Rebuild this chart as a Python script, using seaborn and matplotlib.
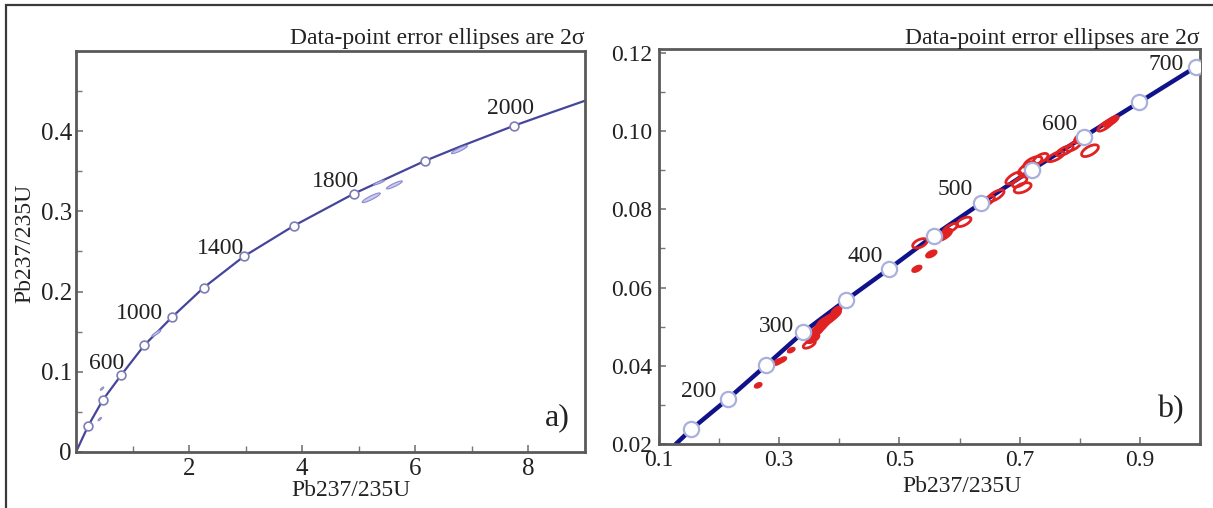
import numpy as np
import pandas as pd
import matplotlib
matplotlib.use("Agg")
import matplotlib.pyplot as plt
from matplotlib.patches import Rectangle
import seaborn as sns

# ---------------- data ----------------
# panel a) concordia curve points and age markers
a_curve_x = [0.0, 0.217, 0.475, 0.80, 1.207, 1.695, 2.258, 2.97, 3.85, 4.91, 6.17, 6.78, 7.75, 8.41, 9.0]
a_curve_y = [0.0, 0.0328, 0.065, 0.096, 0.133, 0.168, 0.205, 0.244, 0.282, 0.322, 0.363, 0.3805, 0.407, 0.4235, 0.438]
a_mark_x = [0.217, 0.475, 0.80, 1.207, 1.695, 2.258, 2.97, 3.85, 4.91, 6.17, 7.75]
a_mark_y = [0.0328, 0.065, 0.096, 0.133, 0.168, 0.205, 0.244, 0.282, 0.322, 0.363, 0.407]
a_age_labels = ["600", "1000", "1400", "1800", "2000"]
a_age_x = [0.54, 1.12, 2.56, 4.58, 7.69]
a_age_y = [0.110, 0.173, 0.254, 0.337, 0.428]
# panel a) error ellipses: centre x, centre y, half-extent x, half-extent y, correlation
a_ell_cx = [0.42, 0.46, 0.80, 1.42, 1.72, 5.22, 5.63, 5.36, 6.78]
a_ell_cy = [0.041, 0.079, 0.095, 0.148, 0.168, 0.317, 0.333, 0.336, 0.377]
a_ell_sx = [0.03, 0.03, 0.05, 0.08, 0.06, 0.16, 0.14, 0.10, 0.14]
a_ell_sy = [0.002, 0.002, 0.003, 0.004, 0.004, 0.006, 0.005, 0.003, 0.005]
a_ell_r = [0.8, 0.8, 0.8, 0.9, 0.9, 0.9, 0.9, 0.9, 0.9]

# panel b) concordia curve points and age markers
b_curve_x = [0.128, 0.154, 0.2145, 0.278, 0.340, 0.411, 0.482, 0.557, 0.635, 0.720, 0.807, 0.899, 0.993]
b_curve_y = [0.020, 0.0238, 0.0315, 0.0401, 0.0486, 0.0568, 0.0647, 0.0733, 0.0815, 0.0901, 0.0986, 0.1074, 0.1164]
b_mark_x = b_curve_x[1:]
b_mark_y = b_curve_y[1:]
b_age_labels = ["200", "300", "400", "500", "600", "700"]
b_age_x = [0.166, 0.2955, 0.4436, 0.592, 0.766, 0.944]
b_age_y = [0.0334, 0.0501, 0.0679, 0.0850, 0.1016, 0.1170]
# panel b) error ellipses
b_ell_cx = [0.265, 0.298, 0.305, 0.320, 0.350, 0.356, 0.360, 0.366, 0.372, 0.378, 0.385, 0.392, 0.395,
            0.529, 0.553, 0.534, 0.575, 0.585, 0.607, 0.645, 0.660, 0.690, 0.700, 0.705, 0.712, 0.722,
            0.735, 0.760, 0.775, 0.790, 0.803, 0.817, 0.843, 0.852]
b_ell_cy = [0.0350, 0.0410, 0.0415, 0.0440, 0.0455, 0.0470, 0.0485, 0.0495, 0.0505, 0.0515, 0.0522, 0.0530, 0.0540,
            0.0648, 0.0686, 0.0713, 0.0735, 0.0752, 0.0768, 0.0820, 0.0835, 0.0880, 0.0870, 0.0855, 0.0905, 0.0920,
            0.0930, 0.0935, 0.0950, 0.0962, 0.0985, 0.0950, 0.1015, 0.1025]
b_ell_sx = [0.005, 0.007, 0.006, 0.005, 0.010, 0.010, 0.012, 0.012, 0.012, 0.014, 0.012, 0.010, 0.008,
            0.007, 0.008, 0.012, 0.012, 0.012, 0.012, 0.013, 0.014, 0.013, 0.012, 0.014, 0.014, 0.015,
            0.012, 0.014, 0.014, 0.012, 0.012, 0.014, 0.013, 0.012]
b_ell_sy = [0.0005, 0.0007, 0.0006, 0.0005, 0.0010, 0.0011, 0.0013, 0.0013, 0.0013, 0.0014, 0.0013, 0.0012, 0.0011,
            0.0007, 0.0008, 0.0012, 0.0014, 0.0012, 0.0012, 0.0014, 0.0015, 0.0015, 0.0013, 0.0013, 0.0017, 0.0015,
            0.0013, 0.0013, 0.0013, 0.0013, 0.0015, 0.0015, 0.0015, 0.0013]
b_ell_r = [0.5, 0.7, 0.7, 0.6, 0.6, 0.6, 0.75, 0.75, 0.75, 0.75, 0.75, 0.75, 0.7,
           0.6, 0.6, 0.5, 0.7, 0.7, 0.6, 0.7, 0.7, 0.7, 0.6, 0.5, 0.7, 0.6,
           0.6, 0.7, 0.7, 0.7, 0.7, 0.6, 0.8, 0.8]
b_ell_filled = [1, 1, 1, 1, 0, 1, 1, 1, 1, 1, 1, 1, 1,
                1, 1, 0, 1, 0, 0, 0, 0, 0, 0, 0, 0, 0,
                0, 0, 0, 0, 0, 0, 0, 1]

axis_label = "Pb237/235U"
title_text = "Data-point error ellipses are 2σ"

# ---------------- style ----------------
sns.set_theme(style="white")
plt.rcParams["font.family"] = ["Liberation Serif", "DejaVu Serif"]
plt.rcParams["mathtext.fontset"] = "stix"

fig = plt.figure(figsize=(12.13, 5.08), dpi=100)
W, H = 1213.0, 508.0
axA = fig.add_axes([76 / W, 1 - 452 / H, (585 - 76) / W, (452 - 51) / H])
axB = fig.add_axes([659 / W, 1 - 444 / H, (1200 - 659) / W, (444 - 49) / H])

# outer frame
fig.add_artist(Rectangle((6 / W, -0.2), 1.5, (1 - 5 / H) + 0.2, transform=fig.transFigure,
                         fill=False, lw=1.6, ec="#3a3a3a"))


def draw_ellipses(ax, cx, cy, sx, sy, rr, fcs, ec, lw):
    t = np.linspace(0, 2 * np.pi, 80)
    for x0, y0, a, b, r, fc in zip(cx, cy, sx, sy, rr, fcs):
        xs = x0 + a * np.cos(t)
        ys = y0 + b * (r * np.cos(t) + np.sqrt(1 - r * r) * np.sin(t))
        ax.fill(xs, ys, facecolor=fc, edgecolor=ec, lw=lw, zorder=3)


def style_axes(ax, tick_size):
    for s in ax.spines.values():
        s.set_color("#5a5a5a")
        s.set_linewidth(2.0)
        s.set_visible(True)
    ax.tick_params(axis="both", which="both", direction="in", bottom=True, left=True,
                   top=False, right=False, colors="#777777", labelcolor="#222222",
                   labelsize=tick_size)
    ax.tick_params(which="major", length=5, width=1.2)
    ax.tick_params(which="minor", length=4, width=1.0)
    ax.grid(False)


# ---------------- panel a ----------------
dfa = pd.DataFrame({"x": a_curve_x, "y": a_curve_y})
sns.lineplot(data=dfa, x="x", y="y", sort=False, ax=axA, color="#45459c", lw=1.6, zorder=2)
draw_ellipses(axA, a_ell_cx, a_ell_cy, a_ell_sx, a_ell_sy, a_ell_r,
              ["#c9c9f0"] * len(a_ell_cx), "#8a8ad0", 0.8)
dfam = pd.DataFrame({"x": a_mark_x, "y": a_mark_y})
sns.scatterplot(data=dfam, x="x", y="y", ax=axA, s=40, marker="o", facecolor="white",
                edgecolor="#7d7db5", linewidth=1.2, zorder=4)
for lab, x, y in zip(a_age_labels, a_age_x, a_age_y):
    axA.text(x, y, lab, ha="center", va="center", fontsize=17, color="#222222", zorder=5)
axA.set_xlim(0, 9)
axA.set_ylim(0, 0.5)
axA.set_xticks([2, 4, 6, 8])
axA.set_xticklabels(["2", "4", "6", "8"])
axA.set_xticks([1, 3, 5, 7], minor=True)
axA.set_yticks([0, 0.1, 0.2, 0.3, 0.4])
axA.set_yticklabels(["0", "0.1", "0.2", "0.3", "0.4"])
axA.set_yticks([0.05, 0.15, 0.25, 0.35, 0.45], minor=True)
style_axes(axA, 18)
axA.tick_params(axis="x", pad=4)
axA.tick_params(axis="y", pad=3)
axA.set_xlabel(axis_label, fontsize=17, color="#222222")
axA.set_ylabel(axis_label, fontsize=17, color="#222222")
axA.xaxis.set_label_coords(0.54, -0.07)
axA.yaxis.set_label_coords(-0.079, 0.52)
axA.text(1.0, 1.005, title_text, transform=axA.transAxes, ha="right", va="bottom",
         fontsize=17, color="#222222")
axA.text(0.97, 0.05, "a)", transform=axA.transAxes, ha="right", va="bottom",
         fontsize=23, color="#222222")

# ---------------- panel b ----------------
dfb = pd.DataFrame({"x": b_curve_x, "y": b_curve_y})
sns.lineplot(data=dfb, x="x", y="y", sort=False, ax=axB, color="#10128a", lw=3.2, zorder=2)
b_fc = ["#e02222" if f else "none" for f in b_ell_filled]
draw_ellipses(axB, b_ell_cx, b_ell_cy, b_ell_sx, b_ell_sy, b_ell_r, b_fc, "#e02222", 2.0)
dfbm = pd.DataFrame({"x": b_mark_x, "y": b_mark_y})
sns.scatterplot(data=dfbm, x="x", y="y", ax=axB, s=120, marker="o", facecolor="white",
                edgecolor="#a9b0de", linewidth=1.6, zorder=4)
for lab, x, y in zip(b_age_labels, b_age_x, b_age_y):
    axB.text(x, y, lab, ha="center", va="center", fontsize=17, color="#222222", zorder=5)
axB.set_xlim(0.1, 1.0)
axB.set_ylim(0.02, 0.121)
axB.set_xticks([0.1, 0.3, 0.5, 0.7, 0.9])
axB.set_xticklabels(["0.1", "0.3", "0.5", "0.7", "0.9"])
axB.set_xticks([0.2, 0.4, 0.6, 0.8], minor=True)
axB.set_yticks([0.02, 0.04, 0.06, 0.08, 0.10, 0.12])
axB.set_yticklabels(["0.02", "0.04", "0.06", "0.08", "0.10", "0.12"])
axB.set_yticks([0.03, 0.05, 0.07, 0.09, 0.11], minor=True)
style_axes(axB, 17)
axB.tick_params(axis="x", pad=4)
axB.tick_params(axis="y", pad=5)
axB.set_xlabel(axis_label, fontsize=17, color="#222222")
axB.set_ylabel("")
axB.xaxis.set_label_coords(0.56, -0.08)
axB.text(1.0, 1.0, title_text, transform=axB.transAxes, ha="right", va="bottom",
         fontsize=17, color="#222222")
axB.text(0.97, 0.05, "b)", transform=axB.transAxes, ha="right", va="bottom",
         fontsize=23, color="#222222")

fig.savefig("out.png", dpi=100)
